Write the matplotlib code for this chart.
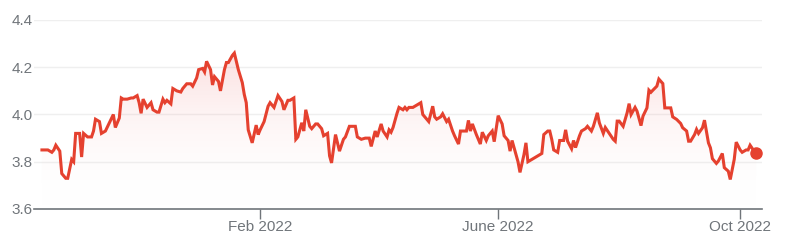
import numpy as np
import pandas as pd
import matplotlib
matplotlib.use("Agg")
import matplotlib.pyplot as plt
import matplotlib.dates as mdates
from matplotlib.colors import LinearSegmentedColormap
from matplotlib.patches import Polygon

plt.rcParams["font.family"] = ["Liberation Sans", "DejaVu Sans"]

# price data
dates = [
    "2021-10-14", "2021-10-17", "2021-10-19", "2021-10-20", "2021-10-21", "2021-10-23",
    "2021-10-24", "2021-10-26", "2021-10-27", "2021-10-29", "2021-10-30", "2021-10-31",
    "2021-11-02", "2021-11-03", "2021-11-04", "2021-11-06", "2021-11-08", "2021-11-09",
    "2021-11-10", "2021-11-12", "2021-11-13", "2021-11-15", "2021-11-17", "2021-11-19",
    "2021-11-20", "2021-11-22", "2021-11-23", "2021-11-24", "2021-11-26", "2021-11-28",
    "2021-11-29", "2021-12-01", "2021-12-02", "2021-12-03", "2021-12-04", "2021-12-06",
    "2021-12-08", "2021-12-09", "2021-12-11", "2021-12-12", "2021-12-14", "2021-12-15",
    "2021-12-16", "2021-12-18", "2021-12-19", "2021-12-21", "2021-12-23", "2021-12-24",
    "2021-12-26", "2021-12-28", "2021-12-29", "2021-12-31", "2022-01-01", "2022-01-03",
    "2022-01-04", "2022-01-05", "2022-01-07", "2022-01-08", "2022-01-09", "2022-01-11",
    "2022-01-12", "2022-01-14", "2022-01-15", "2022-01-16", "2022-01-18", "2022-01-19",
    "2022-01-21", "2022-01-23", "2022-01-24", "2022-01-25", "2022-01-26", "2022-01-28",
    "2022-01-30", "2022-01-31", "2022-02-01", "2022-02-03", "2022-02-05", "2022-02-06",
    "2022-02-08", "2022-02-10", "2022-02-12", "2022-02-13", "2022-02-15", "2022-02-16",
    "2022-02-18", "2022-02-19", "2022-02-20", "2022-02-22", "2022-02-23", "2022-02-24",
    "2022-02-26", "2022-02-27", "2022-03-01", "2022-03-02", "2022-03-04", "2022-03-05",
    "2022-03-07", "2022-03-08", "2022-03-09", "2022-03-11", "2022-03-12", "2022-03-13",
    "2022-03-15", "2022-03-16", "2022-03-18", "2022-03-21", "2022-03-22", "2022-03-24",
    "2022-03-26", "2022-03-28", "2022-03-29", "2022-03-31", "2022-04-01", "2022-04-03",
    "2022-04-04", "2022-04-06", "2022-04-07", "2022-04-08", "2022-04-09", "2022-04-11",
    "2022-04-12", "2022-04-14", "2022-04-15", "2022-04-16", "2022-04-17", "2022-04-19",
    "2022-04-21", "2022-04-23", "2022-04-24", "2022-04-26", "2022-04-27", "2022-04-29",
    "2022-04-30", "2022-05-01", "2022-05-03", "2022-05-04", "2022-05-06", "2022-05-07",
    "2022-05-09", "2022-05-10", "2022-05-12", "2022-05-13", "2022-05-16", "2022-05-17",
    "2022-05-18", "2022-05-19", "2022-05-21", "2022-05-23", "2022-05-24", "2022-05-26",
    "2022-05-27", "2022-05-29", "2022-05-30", "2022-06-01", "2022-06-03", "2022-06-04",
    "2022-06-06", "2022-06-07", "2022-06-08", "2022-06-09", "2022-06-11", "2022-06-12",
    "2022-06-14", "2022-06-15", "2022-06-16", "2022-06-18", "2022-06-20", "2022-06-21",
    "2022-06-23", "2022-06-24", "2022-06-26", "2022-06-27", "2022-06-28", "2022-06-29",
    "2022-07-01", "2022-07-02", "2022-07-04", "2022-07-05", "2022-07-06", "2022-07-08",
    "2022-07-09", "2022-07-10", "2022-07-12", "2022-07-13", "2022-07-15", "2022-07-16",
    "2022-07-18", "2022-07-19", "2022-07-21", "2022-07-22", "2022-07-24", "2022-07-25",
    "2022-07-27", "2022-07-29", "2022-07-30", "2022-07-31", "2022-08-01", "2022-08-03",
    "2022-08-05", "2022-08-06", "2022-08-07", "2022-08-09", "2022-08-10", "2022-08-12",
    "2022-08-13", "2022-08-15", "2022-08-16", "2022-08-17", "2022-08-18", "2022-08-20",
    "2022-08-21", "2022-08-23", "2022-08-24", "2022-08-26", "2022-08-27", "2022-08-28",
    "2022-08-30", "2022-09-01", "2022-09-02", "2022-09-04", "2022-09-05", "2022-09-06",
    "2022-09-08", "2022-09-09", "2022-09-10", "2022-09-12", "2022-09-13", "2022-09-15",
    "2022-09-16", "2022-09-17", "2022-09-19", "2022-09-20", "2022-09-22", "2022-09-23",
    "2022-09-25", "2022-09-26", "2022-09-28", "2022-09-29", "2022-10-01", "2022-10-02",
    "2022-10-04", "2022-10-05", "2022-10-06", "2022-10-08", "2022-10-09",
]
prices = [
    3.85, 3.85, 3.84, 3.85, 3.87, 3.845,
    3.75, 3.73, 3.73, 3.81, 3.80, 3.92,
    3.92, 3.82, 3.92, 3.905, 3.905, 3.93,
    3.98, 3.97, 3.92, 3.93, 3.965, 4.00,
    3.945, 3.985, 4.07, 4.065, 4.065, 4.07,
    4.07, 4.08, 4.05, 4.005, 4.065, 4.03,
    4.05, 4.02, 4.01, 4.01, 4.065, 4.05,
    4.06, 4.045, 4.11, 4.10, 4.095, 4.11,
    4.13, 4.13, 4.12, 4.155, 4.19, 4.195,
    4.18, 4.225, 4.19, 4.125, 4.16, 4.14,
    4.10, 4.19, 4.22, 4.22, 4.25, 4.26,
    4.19, 4.135, 4.085, 4.05, 3.935, 3.88,
    3.955, 3.915, 3.935, 3.97, 4.035, 4.05,
    4.03, 4.08, 4.055, 4.02, 4.06, 4.06,
    4.07, 3.895, 3.905, 3.965, 3.93, 4.02,
    3.95, 3.94, 3.96, 3.96, 3.94, 3.91,
    3.92, 3.825, 3.795, 3.915, 3.88, 3.845,
    3.895, 3.905, 3.95, 3.95, 3.905, 3.895,
    3.90, 3.90, 3.865, 3.93, 3.905, 3.96,
    3.93, 3.905, 3.935, 3.925, 3.945, 4.005,
    4.03, 4.02, 4.03, 4.02, 4.03, 4.03,
    4.04, 4.05, 4.00, 3.98, 3.97, 4.035,
    3.99, 3.98, 3.99, 4.003, 3.97, 3.98,
    3.93, 3.91, 3.875, 3.93, 3.93, 3.975,
    3.93, 3.96, 3.915, 3.875, 3.925, 3.89,
    3.91, 3.93, 3.885, 3.995, 3.96, 3.91,
    3.89, 3.845, 3.89, 3.86, 3.80, 3.755,
    3.83, 3.88, 3.80, 3.81, 3.82, 3.825,
    3.835, 3.915, 3.93, 3.93, 3.895, 3.85,
    3.84, 3.89, 3.89, 3.935, 3.887, 3.855,
    3.89, 3.86, 3.91, 3.93, 3.94, 3.95,
    3.93, 3.95, 4.007, 3.965, 3.92, 3.945,
    3.92, 3.895, 3.887, 3.972, 3.972, 3.95,
    4.007, 4.046, 4.00, 4.03, 4.014, 3.953,
    3.993, 4.028, 4.103, 4.094, 4.103, 4.12,
    4.15, 4.131, 4.028, 4.028, 4.028, 3.99,
    3.979, 3.962, 3.944, 3.93, 3.887, 3.887,
    3.915, 3.937, 3.92, 3.944, 3.976, 3.88,
    3.859, 3.813, 3.793, 3.803, 3.835, 3.775,
    3.76, 3.725, 3.81, 3.883, 3.85, 3.84,
    3.85, 3.85, 3.87, 3.845, 3.835,
]
y_ticks = [3.6, 3.8, 4.0, 4.2, 4.4]
x_tick_dates = ["2022-02-01", "2022-06-01", "2022-10-01"]
x_tick_labels = ["Feb 2022", "June 2022", "Oct 2022"]

RED = "#e5412f"
GRAY_TEXT = "#70757a"

x = mdates.date2num(pd.to_datetime(dates))
y = np.array(prices)

fig = plt.figure(figsize=(8.02, 2.48), dpi=100)
ax = fig.add_axes([34 / 802, 39 / 248, 728 / 802, 189 / 248])

x0 = mdates.date2num(pd.Timestamp("2021-10-10"))
x1 = mdates.date2num(pd.Timestamp("2022-10-12"))
ax.set_xlim(x0, x1)
ax.set_ylim(3.6, 4.4)

# gradient fill under the line
grad = LinearSegmentedColormap.from_list("g", [(1, 1, 1, 0), (0.92, 0.3, 0.3, 0.2)])
img = ax.imshow(np.linspace(0, 1, 256).reshape(-1, 1), cmap=grad, aspect="auto",
                extent=[x0, x1, 3.6, 4.3], origin="lower", zorder=1)
poly = Polygon(np.column_stack([np.r_[x[0], x, x[-1]], np.r_[3.6, y, 3.6]]),
               closed=True, facecolor="none", edgecolor="none")
ax.add_patch(poly)
img.set_clip_path(poly)

ax.plot(x, y, color=RED, lw=2.2, zorder=3, solid_joinstyle="miter")
ax.plot(x[-1], y[-1], "o", color=RED, ms=8, zorder=4)

for t in y_ticks[1:]:
    ax.axhline(t, color="#efefef", lw=1, zorder=0)

for s in ["top", "right", "left"]:
    ax.spines[s].set_visible(False)
ax.spines["bottom"].set_color("#70757a")
ax.spines["bottom"].set_linewidth(1.2)

ax.set_yticks(y_ticks)
ax.set_yticklabels([f"{t:.1f}" for t in y_ticks])
ax.set_xticks(mdates.date2num(pd.to_datetime(x_tick_dates)))
ax.set_xticklabels(x_tick_labels)
ax.tick_params(axis="y", length=0, pad=1, labelsize=11, labelcolor=GRAY_TEXT)
ax.tick_params(axis="x", length=7, width=1, color="#70757a", pad=1,
               labelsize=11, labelcolor=GRAY_TEXT)

fig.savefig("out.png", dpi=100)
